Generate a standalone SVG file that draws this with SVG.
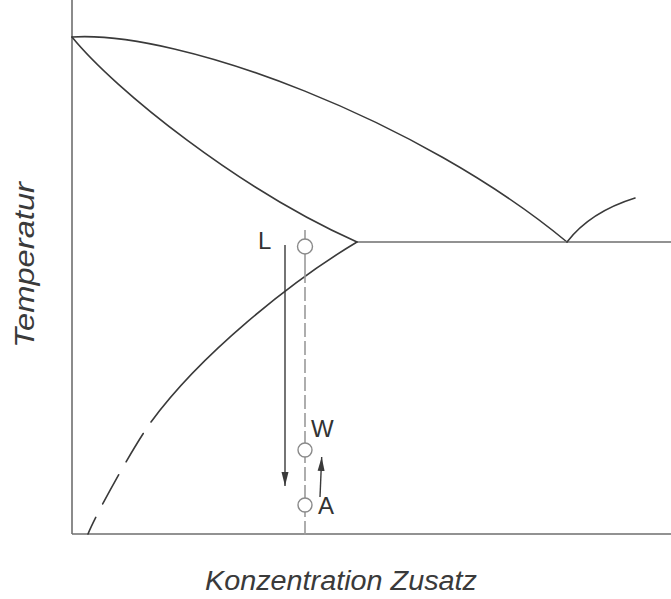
<svg xmlns="http://www.w3.org/2000/svg" width="671" height="599" viewBox="0 0 671 599">
<defs>
<style>
.curve{fill:none;stroke:#3a3a3a;stroke-width:1.6;stroke-linecap:round}
.axis{fill:none;stroke:#6e6e6e;stroke-width:1.6}
.guide{fill:none;stroke:#9a9a9a;stroke-width:1.6;stroke-dasharray:14 4}
.pt{fill:#ffffff;stroke:#8a8a8a;stroke-width:1.4}
.lbl{font-family:"Liberation Sans",Arial,sans-serif;font-size:24px;fill:#333333}
.ax{font-family:"Liberation Sans",Arial,sans-serif;font-size:27px;font-style:italic;fill:#3a3a3a}
.arr{fill:none;stroke:#3a3a3a;stroke-width:1.4}
</style>
<marker id="ah" viewBox="0 0 14 8" refX="14" refY="4" markerWidth="14" markerHeight="8" markerUnits="userSpaceOnUse" orient="auto">
<path d="M0,0.5 L14,4 L0,7.5 Z" fill="#3a3a3a"/>
</marker>
</defs>
<rect width="671" height="599" fill="#ffffff"/>
<g id="axes">
<line class="axis" x1="72" y1="0" x2="72" y2="534"/>
<line class="axis" x1="72" y1="534" x2="671" y2="534"/>
</g>
<g id="phase-lines">
<path class="curve" d="M72,37 C180,30 420,120 567,242"/>
<path class="curve" d="M72,37 C115,90 240,190 357,242"/>
<line class="axis" x1="357" y1="242" x2="671" y2="242"/>
<path class="curve" d="M567,242 Q590,212 635,198"/>
<path class="curve" d="M357,242 C290,282 200,355 151,422"/>
<path class="curve" d="M151,422 C135,444 98,510 88,534" stroke-dasharray="33 15" stroke-dashoffset="34"/>
</g>
<g id="guide">
<line x1="305" y1="230" x2="305" y2="283" stroke="#9a9a9a" stroke-width="1.6"/>
<line class="guide" x1="305" y1="287" x2="305" y2="537"/>
</g>
<g id="connectors">
<line class="arr" x1="285" y1="245" x2="285" y2="486" marker-end="url(#ah)"/>
<line class="arr" x1="320" y1="497" x2="321.7" y2="457" marker-end="url(#ah)"/>
</g>
<g id="point-L">
<circle class="pt" cx="305" cy="246.5" r="7.5"/>
<text class="lbl" x="258" y="249">L</text>
</g>
<g id="point-W">
<circle class="pt" cx="305" cy="450" r="7"/>
<text class="lbl" x="311" y="437">W</text>
</g>
<g id="point-A">
<circle class="pt" cx="305" cy="505" r="7"/>
<text class="lbl" x="318" y="514">A</text>
</g>
<g id="axis-labels">
<text class="ax" x="205" y="590" textLength="272" lengthAdjust="spacingAndGlyphs">Konzentration Zusatz</text>
<text class="ax" transform="translate(34,265) rotate(-90)" text-anchor="middle" textLength="166" lengthAdjust="spacingAndGlyphs">Temperatur</text>
</g>
</svg>
